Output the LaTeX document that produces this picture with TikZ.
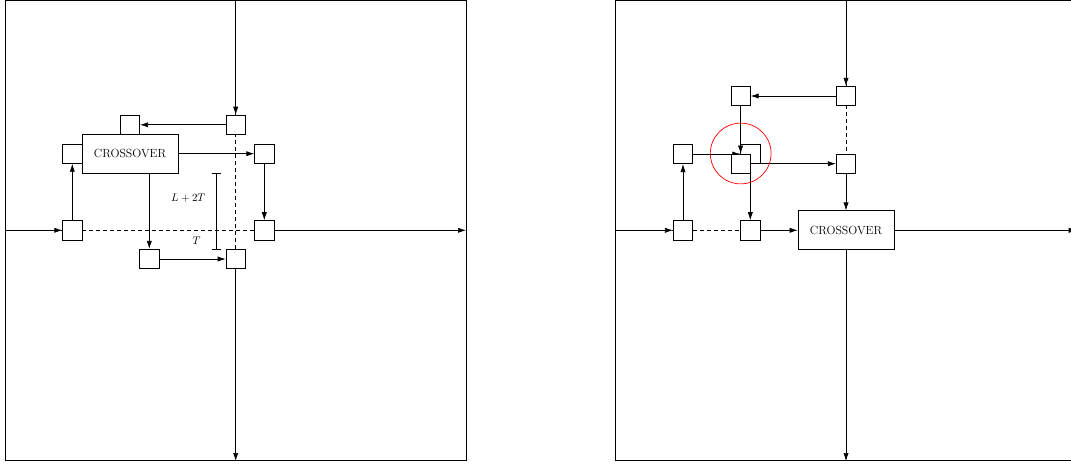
\documentclass[tikz,border=0pt]{standalone}
\usetikzlibrary{arrows.meta}
\begin{document}
\begin{tikzpicture}[x=1pt,y=-1pt,
  car/.style={draw, fill=white, minimum size=19.4pt, inner sep=0pt, line width=0.7pt},
  xbox/.style={draw, fill=white, minimum width=96pt, minimum height=39pt, inner sep=0pt, line width=0.7pt, font=\fontsize{11.8}{14}\selectfont},
  road/.style={line width=0.7pt, dash pattern=on 4pt off 3pt},
  flow/.style={-{Latex[length=8pt,width=5.2pt]}, line width=0.7pt},
  frame/.style={line width=0.8pt},
  lbl/.style={font=\fontsize{10.6}{12}\selectfont, inner sep=0pt}]
\useasboundingbox (0,0) rectangle (1071,465);
\clip (0,0) rectangle (1071,465);

% ---------------- left panel ----------------
\draw[frame] (5,0.5) rectangle (466,460.5);
\coordinate (Ltop) at (235.7,0);
\coordinate (Lbot) at (235.7,461);
\coordinate (Lleft) at (5,230.3);
\coordinate (Lright) at (466,230.3);
\draw[road] (Ltop) -- (Lbot);
\draw[road] (Lleft) -- (Lright);

\node[xbox] (X) at (130,153.7) {CROSSOVER};
\node[car] (A) at (235.7,124.8) {};
\node[car] (B) at (130,124.8) {};
\node[car] (C) at (72.3,153.7) {};
\node[car] (D) at (264.3,153.7) {};
\node[car] (E) at (72.3,230.3) {};
\node[car] (F) at (264.3,230.3) {};
\node[car] (G) at (149.3,259) {};
\node[car] (H) at (235.7,259) {};

\draw[flow] (Ltop) -- (A.north);
\draw[flow] (A.west) -- (B.east);
\draw[flow] (X.east) -- (D.west);
\draw[flow] (D.south) -- (F.north);
\draw[flow] (E.north) -- (C.south);
\draw[flow] (G.north |- X.south) -- (G.north);
\draw[flow] (G.east) -- (H.west);
\draw[flow] (H.south) -- (Lbot);
\draw[flow] (Lleft) -- (E.west);
\draw[flow] (F.east) -- (Lright);

% dimension
\coordinate (d1) at (216,172.7);
\coordinate (d2) at (216,249.3);
\draw[line width=0.7pt, {Bar[width=9pt]}-{Bar[width=9pt]}] (d1) -- (d2);
\node[lbl] (l1) at (188.3,198.5) {$L+2T$};
\node[lbl] (l2) at (196.7,240.7) {$T$};

% ---------------- right panel ----------------
\draw[frame] (615.7,0.5) rectangle (1076.7,460.5);
\coordinate (Rtop) at (846,0);
\coordinate (Rbot) at (846,461);
\coordinate (Rleft) at (615.7,230.3);
\coordinate (Rright) at (1076.7,230.3);
\draw[road] (Rtop) -- (Rbot);
\draw[road] (Rleft) -- (Rright);

\node[xbox] (X2) at (846,230.3) {CROSSOVER};
\node[car] (A2) at (846,96) {};
\node[car] (B2) at (740.6,96) {};
\node[car] (C2) at (683,154) {};
\node[car] (D2) at (846,163.7) {};
\node[car] (E2) at (683,230.3) {};
\node[car] (N2) at (750.3,230.3) {};
\node[car] (Mb) at (750.3,154) {};
\draw[flow] (C2.east) -- (Mb.west);
\node[car] (M) at (740.6,163.7) {};

\draw[flow] (Rtop) -- (A2.north);
\draw[flow] (A2.west) -- (B2.east);
\draw[flow] (B2.south) -- (M.north);
\draw[flow] (M.east) -- (D2.west);
\draw[flow] (Mb.south) -- (N2.north);
\draw[flow] (D2.south) -- (X2.north);
\draw[flow] (X2.south) -- (Rbot);
\draw[flow] (X2.east) -- (Rright);
\draw[flow] (Rleft) -- (E2.west);
\draw[flow] (E2.north) -- (C2.south);
\draw[flow] (N2.east) -- (X2.west);

\node[draw=red, circle, minimum size=60.8pt, inner sep=0pt, line width=0.7pt] (circ) at (740.7,153.5) {};
\end{tikzpicture}
\end{document}
